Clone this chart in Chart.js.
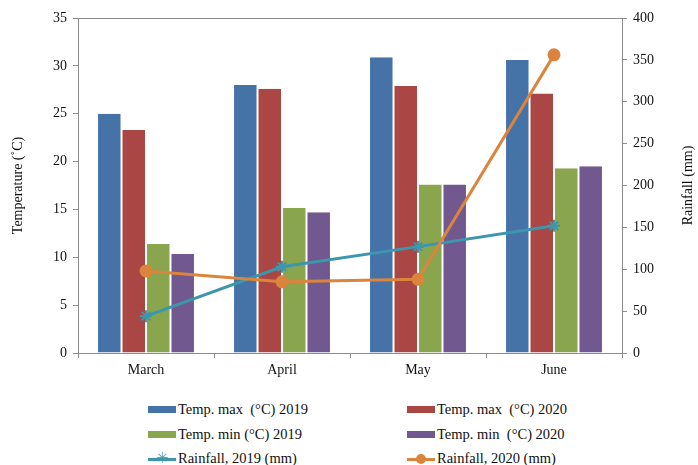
<!DOCTYPE html>
<html>
<head>
<meta charset="utf-8">
<script src="https://cdn.jsdelivr.net/npm/chart.js@4/dist/chart.umd.min.js"></script>
<style>
  body{margin:0;background:#fff;font-family:"Liberation Serif","Times New Roman",serif;}
  #wrap{position:relative;width:698px;height:465px;}
  #box{position:absolute;left:0;top:0;width:698px;height:385px;}
  .leg{position:absolute;font-size:14.5px;color:#111;display:flex;align-items:center;white-space:pre;}
  .sw{display:inline-block;width:28px;height:7px;margin-right:2px;}
  .ln{position:relative;display:inline-block;width:28px;height:10px;margin-right:2px;}
  .ln i{position:absolute;left:0;right:0;top:4px;height:3px;}
</style>
</head>
<body>
<div id="wrap">
  <div id="box"><canvas id="c"></canvas></div>
  <div id="legend"></div>
</div>
<script>
// months on the x axis
const months = ["March","April","May","June"];

// temperatures (°C), left axis
const tmax2019 = [25.0, 28.0, 30.9, 30.6];
const tmax2020 = [23.3, 27.6, 27.9, 27.1];
const tmin2019 = [11.4, 15.15, 17.6, 19.3];
const tmin2020 = [10.35, 14.7, 17.6, 19.5];

// rainfall (mm), right axis
const rain2019 = [44, 103, 127, 152];
const rain2020 = [98, 85, 88, 356];

const tempTicks = [0,5,10,15,20,25,30,35];
const rainTicks = [0,50,100,150,200,250,300,350,400];

const colors = {
  tmax2019:'#4572A7', tmax2020:'#AA4643', tmin2019:'#89A54E', tmin2020:'#71588F',
  rain2019:'#3D96AE', rain2020:'#DB843D'
};

const font = {family:'"Liberation Serif","Times New Roman",serif', size:14};
const axisColor = '#8c8c8c';

function bar(label, data, col){
  return {type:'bar', label, data, backgroundColor:col, borderColor:'#fff',
    borderWidth:{left:1,right:1,top:0,bottom:0}, yAxisID:'y', order:2,
    barPercentage:1, categoryPercentage:0.72};
}

// top frame line of the plot area + right axis title reading bottom-up
const frame = {
  id:'frame',
  afterDraw(chart){
    const {ctx, chartArea:a} = chart;
    ctx.save();
    ctx.strokeStyle = axisColor; ctx.lineWidth = 1;
    ctx.beginPath();
    ctx.moveTo(a.left, a.top+0.5); ctx.lineTo(a.right, a.top+0.5);
    ctx.stroke();
    ctx.translate(chart.width-10, (a.top+a.bottom)/2);
    ctx.rotate(-Math.PI/2);
    ctx.fillStyle = '#111';
    ctx.font = `${font.size}px ${font.family}`;
    ctx.textAlign = 'center'; ctx.textBaseline = 'middle';
    ctx.fillText('Rainfall (mm)', 0, 0);
    ctx.restore();
  }
};

new Chart(document.getElementById('c'), {
  data:{
    labels:months,
    datasets:[
      bar('Temp. max  (°C) 2019', tmax2019, colors.tmax2019),
      bar('Temp. max  (°C) 2020', tmax2020, colors.tmax2020),
      bar('Temp. min (°C) 2019', tmin2019, colors.tmin2019),
      bar('Temp. min  (°C) 2020', tmin2020, colors.tmin2020),
      {type:'line', label:'Rainfall, 2019 (mm)', data:rain2019, yAxisID:'y1', order:1,
        borderColor:colors.rain2019, backgroundColor:colors.rain2019, borderWidth:3,
        pointStyle:'star', pointRadius:6, pointBorderWidth:2, tension:0},
      {type:'line', label:'Rainfall, 2020 (mm)', data:rain2020, yAxisID:'y1', order:0,
        borderColor:colors.rain2020, backgroundColor:colors.rain2020, borderWidth:3,
        pointStyle:'circle', pointRadius:5, tension:0}
    ]
  },
  options:{
    responsive:true, maintainAspectRatio:false, animation:false,
    layout:{padding:{top:18, right:0, left:0, bottom:0}},
    plugins:{legend:{display:false}, tooltip:{enabled:false}},
    scales:{
      x:{
        grid:{display:true, drawOnChartArea:false, drawTicks:true, tickLength:5, color:axisColor, offset:true},
        border:{color:axisColor},
        ticks:{color:'#111', font, padding:4},
        afterFit(s){ s.height = 32; }
      },
      y:{
        position:'left', min:0, max:35,
        afterBuildTicks(s){ s.ticks = tempTicks.map(v=>({value:v})); },
        grid:{drawOnChartArea:false, tickLength:5, color:axisColor},
        border:{color:axisColor},
        ticks:{color:'#111', font, padding:6},
        title:{display:true, text:'Temperature (˚C)', color:'#111', font, padding:{top:10,bottom:6}},
        afterFit(s){ s.width = 78; }
      },
      y1:{
        position:'right', min:0, max:400,
        afterBuildTicks(s){ s.ticks = rainTicks.map(v=>({value:v})); },
        grid:{drawOnChartArea:false, tickLength:5, color:axisColor},
        border:{color:axisColor},
        ticks:{color:'#111', font, padding:6},
        afterFit(s){ s.width = 76; }
      }
    }
  },
  plugins:[frame]
});

// legend below the chart, two columns
const legendItems = [
  {label:'Temp. max  (°C) 2019', col:colors.tmax2019, kind:'bar', x:148, y:401},
  {label:'Temp. max  (°C) 2020', col:colors.tmax2020, kind:'bar', x:407, y:401},
  {label:'Temp. min (°C) 2019', col:colors.tmin2019, kind:'bar', x:148, y:426},
  {label:'Temp. min  (°C) 2020', col:colors.tmin2020, kind:'bar', x:407, y:426},
  {label:'Rainfall, 2019 (mm)', col:colors.rain2019, kind:'star', x:148, y:450},
  {label:'Rainfall, 2020 (mm)', col:colors.rain2020, kind:'dot', x:407, y:450}
];
const legend = document.getElementById('legend');
for(const it of legendItems){
  const d = document.createElement('div');
  d.className = 'leg';
  d.style.left = it.x+'px'; d.style.top = it.y+'px';
  let icon;
  if(it.kind==='bar'){
    icon = `<span class="sw" style="background:${it.col}"></span>`;
  }else if(it.kind==='dot'){
    icon = `<span class="ln"><i style="background:${it.col}"></i><b style="position:absolute;left:9px;top:0;width:10px;height:10px;border-radius:50%;background:${it.col}"></b></span>`;
  }else{
    icon = `<span class="ln"><i style="background:${it.col}"></i><b style="position:absolute;left:8px;top:-3px;font-weight:normal;font-size:15px;line-height:15px;color:${it.col}">✳</b></span>`;
  }
  d.innerHTML = icon + it.label;
  legend.appendChild(d);
}
</script>
</body>
</html>
